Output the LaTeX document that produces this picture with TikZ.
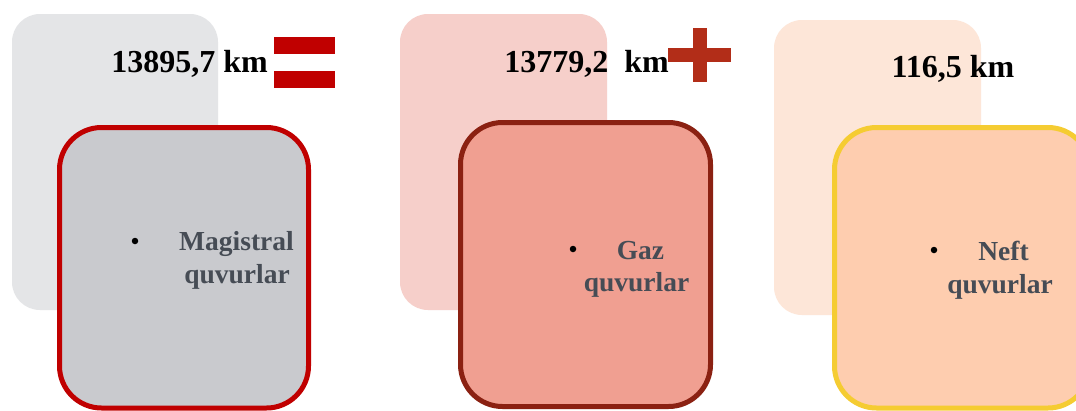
\documentclass[tikz,border=0pt]{standalone}
\usepackage{fontspec}
\setmainfont{Liberation Serif}
\definecolor{bgA}{HTML}{E4E5E7}
\definecolor{fgA}{HTML}{C9CACE}
\definecolor{lnA}{HTML}{C00000}
\definecolor{bgB}{HTML}{F6CFCA}
\definecolor{fgB}{HTML}{F09F91}
\definecolor{lnB}{HTML}{8B2112}
\definecolor{bgC}{HTML}{FDE6D8}
\definecolor{fgC}{HTML}{FECDAF}
\definecolor{lnC}{HTML}{F5CC32}
\definecolor{lblgray}{HTML}{464C55}
\definecolor{eqred}{HTML}{C00000}
\definecolor{plusred}{HTML}{B22D18}
\begin{document}
\begin{tikzpicture}[x=1pt,y=-1pt,
  bgbox/.style={rounded corners=28pt, inner sep=0pt, outer sep=0pt, draw=none},
  fgbox/.style={rounded corners=42pt, inner sep=0pt, outer sep=0pt, line width=5pt},
  kmtext/.style={font=\fontsize{32}{38}\selectfont\bfseries, anchor=base, inner sep=0pt},
  lbl/.style={font=\fontsize{27.5}{33}\selectfont\bfseries, text=lblgray, anchor=base, inner sep=0pt},
  bulletdot/.style={circle, fill=black, inner sep=0pt, minimum size=6.5pt},
  bar/.style={inner sep=0pt, outer sep=0pt, draw=none}]
\useasboundingbox[fill=white] (0,0) rectangle (1076,410);
% group 1
\node[bgbox, fill=bgA, minimum width=206pt, minimum height=296pt] (bg1) at (115,162) {};
\node[fgbox, fill=fgA, draw=lnA, minimum width=249pt, minimum height=280.5pt] (fg1) at (184,267.75) {};
\node[kmtext] (km1) at (189.5,72) {13895,7 km};
\node[bar, fill=eqred, minimum width=61pt, minimum height=17pt] (eqtop) at (304.5,45.5) {};
\node[bar, fill=eqred, minimum width=61pt, minimum height=17pt] (eqbot) at (304.5,79.5) {};
\node[bulletdot] (b1) at (135,241) {};
\node[lbl] (l1a) at (236.5,250) {Magistral};
\node[lbl] (l1b) at (237,283) {quvurlar};
% group 2
\node[bgbox, fill=bgB, minimum width=207pt, minimum height=296pt] (bg2) at (503.5,162) {};
\node[fgbox, fill=fgB, draw=lnB, minimum width=250pt, minimum height=284pt] (fg2) at (585.5,264.5) {};
\node[kmtext] (km2) at (586.5,72) {13779,2\ \ km};
\node[bar, fill=plusred, minimum width=63pt, minimum height=14pt] (plush) at (699.5,55) {};
\node[bar, fill=plusred, minimum width=14pt, minimum height=54pt] (plusv) at (700,55) {};
\node[bulletdot] (b2) at (573,249) {};
\node[lbl] (l2a) at (640.5,259) {Gaz};
\node[lbl] (l2b) at (636.5,291) {quvurlar};
% group 3
\node[bgbox, fill=bgC, minimum width=207pt, minimum height=295pt] (bg3) at (877.5,167.5) {};
\node[fgbox, fill=fgC, draw=lnC, minimum width=255.5pt, minimum height=280.5pt] (fg3) at (962.25,267.75) {};
\node[kmtext] (km3) at (953,77) {116,5 km};
\node[bulletdot] (b3) at (934,250) {};
\node[lbl] (l3a) at (1003.5,260) {Neft};
\node[lbl] (l3b) at (1000,293) {quvurlar};
\end{tikzpicture}
\end{document}
